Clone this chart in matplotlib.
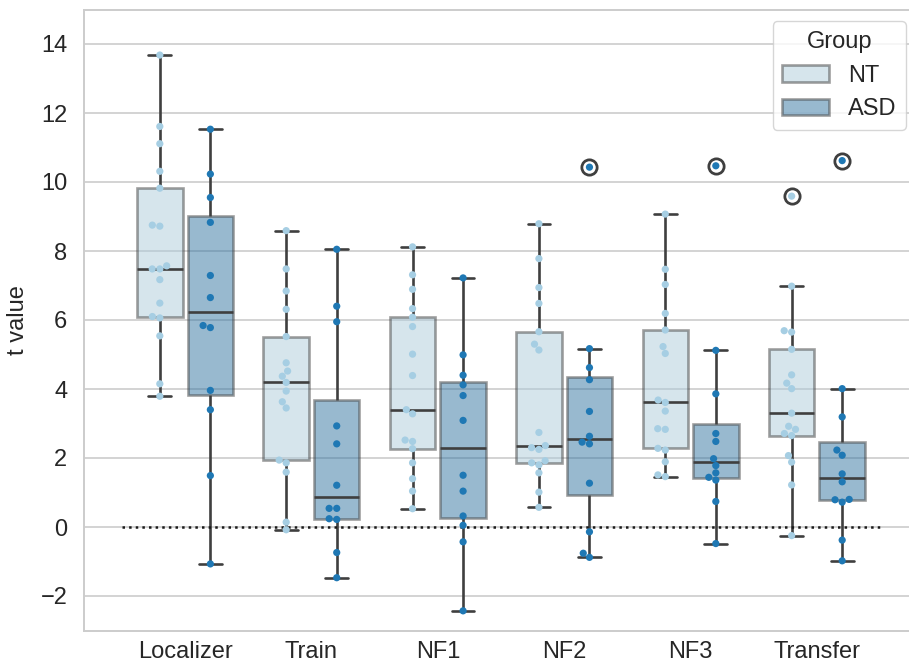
import matplotlib.pyplot as plt
import pandas as pd
import seaborn as sns
from matplotlib.patches import Patch

phases = ['Localizer', 'Train', 'NF1', 'NF2', 'NF3', 'Transfer']
groups = ['NT', 'ASD']

# t values per subject
nt_localizer = [13.68, 11.61, 11.11, 10.31, 9.82, 8.75, 8.72, 7.57, 7.48, 7.48,
                7.17, 6.49, 6.10, 6.06, 5.54, 4.15, 3.79]
nt_train = [8.59, 7.48, 6.84, 6.31, 5.52, 4.76, 4.52, 4.37, 4.19, 3.94,
            3.63, 3.45, 1.94, 1.86, 1.59, 0.14, -0.08]
nt_nf1 = [8.12, 7.31, 6.89, 6.33, 6.08, 5.81, 5.01, 4.39, 3.40, 3.28,
          2.52, 2.48, 2.27, 1.86, 1.40, 1.04, 0.53]
nt_nf2 = [8.79, 7.78, 6.94, 6.48, 5.66, 5.30, 5.13, 2.74, 2.36, 2.30,
          2.25, 1.92, 1.86, 1.80, 1.57, 1.01, 0.57]
nt_nf3 = [9.07, 7.47, 7.03, 6.19, 5.71, 5.23, 5.03, 3.68, 3.61, 3.36,
          2.85, 2.83, 2.28, 2.23, 1.89, 1.51, 1.46]
nt_transfer = [9.59, 6.98, 5.69, 5.65, 5.15, 4.41, 4.17, 4.01, 3.30, 2.92,
               2.83, 2.71, 2.65, 2.07, 1.88, 1.22, -0.25]

asd_localizer = [11.53, 10.23, 9.55, 8.83, 7.29, 6.65, 5.84, 5.78, 3.96, 3.40, 1.49, -1.07]
asd_train = [8.05, 6.40, 5.95, 2.93, 2.41, 1.21, 0.54, 0.54, 0.24, 0.22, -0.74, -1.47]
asd_nf1 = [7.22, 4.99, 4.40, 4.12, 3.81, 3.09, 1.50, 1.04, 0.32, 0.05, -0.43, -2.43]
asd_nf2 = [10.43, 5.17, 4.62, 4.27, 3.35, 2.63, 2.46, 2.41, 1.27, -0.14, -0.76, -0.88]
asd_nf3 = [10.47, 5.12, 3.86, 2.71, 2.48, 1.98, 1.78, 1.57, 1.44, 1.36, 0.74, -0.48]
asd_transfer = [10.62, 4.01, 3.19, 2.23, 2.08, 1.54, 1.31, 0.80, 0.79, 0.72, -0.38, -0.98]

nt_vals = [nt_localizer, nt_train, nt_nf1, nt_nf2, nt_nf3, nt_transfer]
asd_vals = [asd_localizer, asd_train, asd_nf1, asd_nf2, asd_nf3, asd_transfer]

rows = []
for ph, nt, asd in zip(phases, nt_vals, asd_vals):
    rows += [(ph, 'NT', v) for v in nt]
    rows += [(ph, 'ASD', v) for v in asd]
df = pd.DataFrame(rows, columns=['phase', 'Group', 't'])

sns.set_theme(style='whitegrid')
plt.rcParams['font.family'] = ['Liberation Sans', 'DejaVu Sans']

dark = '#3f3f3f'
fs = 17
fig = plt.figure(figsize=(9.09, 6.70), dpi=100)
ax = fig.add_axes([84 / 909, 39.5 / 670, 834 / 909, 621 / 670])

sns.boxplot(data=df, x='phase', y='t', hue='Group', order=phases, hue_order=groups,
            palette='Paired', gap=0.1, linewidth=1.9, linecolor=dark,
            boxprops=dict(alpha=0.5),
            flierprops=dict(marker='o', markerfacecolor='none', markeredgecolor=dark,
                            markersize=11, markeredgewidth=2),
            legend=False, ax=ax)
sns.swarmplot(data=df, x='phase', y='t', hue='Group', order=phases, hue_order=groups,
              palette='Paired', dodge=True, size=5.2, legend=False, ax=ax)

# zero reference line
ax.hlines(0, -0.5, 5.5, colors='k', linestyles='dotted', linewidth=1.8)

ax.set_xlim(-0.8, 5.8)
ax.set_ylim(-3, 15)
ax.set_xlabel('')
ax.set_ylabel('t value', fontsize=fs, labelpad=8)
ax.tick_params(axis='x', length=0, pad=7.5, labelsize=fs)
ax.tick_params(axis='y', length=0, pad=12, labelsize=fs)
ax.grid(axis='y', linewidth=1.2, color='#cccccc')
for sp in ax.spines.values():
    sp.set_linewidth(1.4)
    sp.set_color('#cccccc')

pal = sns.color_palette('Paired', 2)
handles = [Patch(facecolor=sns.desaturate(c, 0.75), edgecolor=dark, alpha=0.5,
                 linewidth=1.9, label=g) for c, g in zip(pal, groups)]
ax.legend(handles=handles, title='Group', loc='upper right', fontsize=fs,
          title_fontsize=fs, edgecolor='#cccccc')

plt.savefig('out.png', dpi=100)
